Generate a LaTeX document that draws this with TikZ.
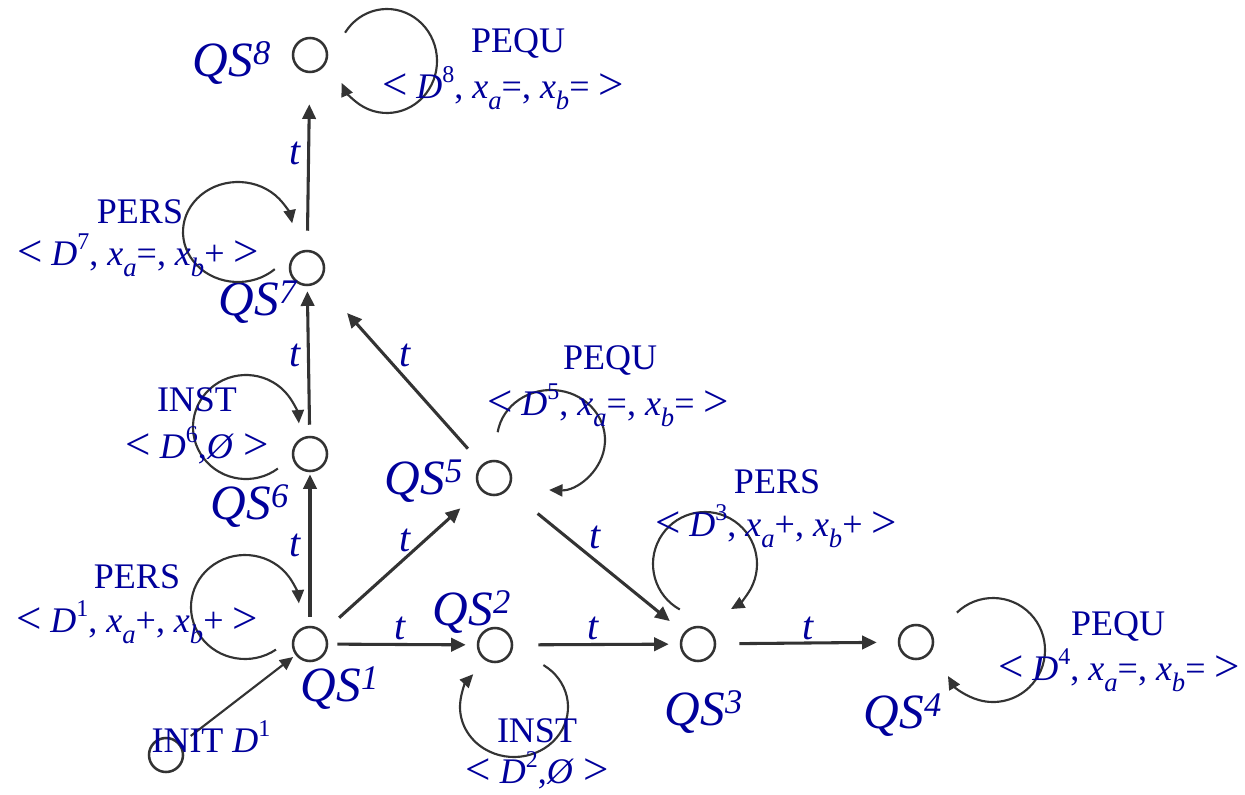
\documentclass[tikz,border=0pt]{standalone}
\usepackage{fontspec}
\setmainfont{Liberation Serif}
\usetikzlibrary{arrows.meta,calc}
\definecolor{lblue}{RGB}{0,0,155}
\definecolor{lgray}{RGB}{51,51,51}
\newcommand{\lsym}{\raisebox{-0.02em}{\scalebox{1.25}{<}}}
\newcommand{\gsym}{\raisebox{-0.02em}{\scalebox{1.25}{>}}}
\newcommand{\mysub}[1]{\raisebox{-0.3em}{\fontsize{20}{20}\selectfont\textit{#1}}}
\newcommand{\mysup}[1]{\raisebox{0.45em}{\fontsize{18}{18}\selectfont #1}}
\newcommand{\tup}[3]{\lsym\ \textit{D}\mysup{#1}, \textit{x}\mysub{a}#2, \textit{x}\mysub{b}#3\ \gsym}
\newcommand{\qsl}[1]{\textit{QS\textsuperscript{#1}}}
\begin{document}
\begin{tikzpicture}[x=0.75pt,y=-0.75pt,
  state/.style={circle,draw=lgray,line width=1.9pt,minimum size=25.5pt,inner sep=0pt},
  qs/.style={text=lblue,font=\fontsize{37}{40}\selectfont,inner sep=0pt},
  lbl/.style={text=lblue,font=\fontsize{27}{30}\selectfont,inner sep=0pt},
  tl/.style={text=lblue,font=\fontsize{30}{32}\selectfont\itshape,inner sep=0pt},
  tr/.style={draw=lgray,line width=2.3pt,-{Triangle[length=11pt,width=10pt]}},
  lp/.style={draw=lgray,line width=1.6pt,-{Triangle[length=10pt,width=9pt]}},
]
\useasboundingbox (0,0) rectangle (1245,795);
% states
\node[state] (s8) at (310,55) {};
\node[state] (s7) at (307,268) {};
\node[state] (s6) at (310,454) {};
\node[state] (s5) at (494,478) {};
\node[state] (s1) at (310,644) {};
\node[state] (s2) at (495,645) {};
\node[state] (s3) at (698,644) {};
\node[state] (s4) at (916,642) {};
\node[state] (s0) at (166,755) {};
% state names
\node[qs] (n8) at (232,63) {\qsl{8}};
\node[qs] (n7) at (258,302) {\qsl{7}};
\node[qs] (n6) at (250,506) {\qsl{6}};
\node[qs] (n5) at (424,481) {\qsl{5}};
\node[qs] (n1) at (340,688) {\qsl{1}};
\node[qs] (n2) at (472,612) {\qsl{2}};
\node[qs] (n3) at (704,712) {\qsl{3}};
\node[qs] (n4) at (903,715) {\qsl{4}};
% transitions
\draw[lp,shorten <=9.75pt,shorten >=2.25pt] (s0) -- (s1);
\draw[tr,shorten <=6.75pt,shorten >=8.25pt] (s1) -- (s2);
\draw[tr,shorten <=6.75pt,shorten >=1.5pt] (s1) -- (s6);
\draw[tr,shorten <=15.75pt,shorten >=20.25pt] (s1) -- (s5);
\draw[tr,shorten <=8.25pt,shorten >=3.75pt] (s6) -- (s7);
\draw[tr,shorten <=15.75pt,shorten >=31.5pt] (s5) -- (s7);
\draw[tr,shorten <=14.25pt,shorten >=23.25pt] (s7) -- (s8);
\draw[tr,shorten <=18.75pt,shorten >=8.25pt] (s2) -- (s3);
\draw[tr,shorten <=28.5pt,shorten >=13.5pt] (s5) -- (s3);
\draw[tr,shorten <=17.25pt,shorten >=15.75pt] (s3) -- (s4);
% t labels
\node[tl] (t12) at (400,628) {t};
\node[tl] (t16) at (295,545) {t};
\node[tl] (t15) at (405,540) {t};
\node[tl] (t67) at (295,355) {t};
\node[tl] (t57) at (405,355) {t};
\node[tl] (t78) at (295,153) {t};
\node[tl] (t23) at (593,628) {t};
\node[tl] (t53) at (595,537) {t};
\node[tl] (t34) at (808,628) {t};
% loop centres
\coordinate (c8) at (387,61);
\coordinate (c7) at (238,232);
\coordinate (c6) at (246,427);
\coordinate (c1) at (245,607);
\coordinate (c5) at (551,440);
\coordinate (c3) at (705,564);
\coordinate (c2) at (514,707);
\coordinate (c4) at (993,650);
% self loops
\draw[lp] ([shift={(-147:50 and 52)}]c8) arc[start angle=-147,end angle=155,x radius=50,y radius=52];
\draw[lp] ([shift={(48:55 and 50)}]c7) arc[start angle=48,end angle=350,x radius=55,y radius=50];
\draw[lp] ([shift={(53:53 and 52)}]c6) arc[start angle=53,end angle=356,x radius=53,y radius=52];
\draw[lp] ([shift={(55:54 and 52)}]c1) arc[start angle=55,end angle=356,x radius=54,y radius=52];
\draw[lp] ([shift={(-171:54 and 50)}]c5) arc[start angle=-171,end angle=92,x radius=54,y radius=50];
\draw[lp] ([shift={(-241:52 and 52)}]c3) arc[start angle=-241,end angle=60,x radius=52,y radius=52];
\draw[lp] ([shift={(-57:54 and 50)}]c2) arc[start angle=-57,end angle=221,x radius=54,y radius=50];
\draw[lp] ([shift={(-134:52 and 52)}]c4) arc[start angle=-134,end angle=150,x radius=52,y radius=52];
% loop labels
\node[lbl] (k8) at (518,44) {PEQU};
\node[lbl] (v8) at (503,88) {\tup{8}{=}{=}};
\node[lbl] (k7) at (140,212) {PERS};
\node[lbl] (v7) at (138,255) {\tup{7}{=}{+}};
\node[lbl] (k6) at (197,400) {INST};
\node[lbl] (v6) at (197,445) {\lsym\ \textit{D}\mysup{6},\textit{Ø}\ \gsym};
\node[lbl] (k5) at (610,360) {PEQU};
\node[lbl] (v5) at (608,405) {\tup{5}{=}{=}};
\node[lbl] (k3) at (777,482) {PERS};
\node[lbl] (v3) at (776,526) {\tup{3}{+}{+}};
\node[lbl] (k1) at (137,577) {PERS};
\node[lbl] (v1) at (137,622) {\tup{1}{+}{+}};
\node[lbl] (k0) at (211,737) {INIT \textit{D}\mysup{1}};
\node[lbl] (k2) at (537,731) {INST};
\node[lbl] (v2) at (537,770) {\lsym\ \textit{D}\mysup{2},\textit{Ø}\ \gsym};
\node[lbl] (k4) at (1118,626) {PEQU};
\node[lbl] (v4) at (1119,670) {\tup{4}{=}{=}};
\end{tikzpicture}
\end{document}
